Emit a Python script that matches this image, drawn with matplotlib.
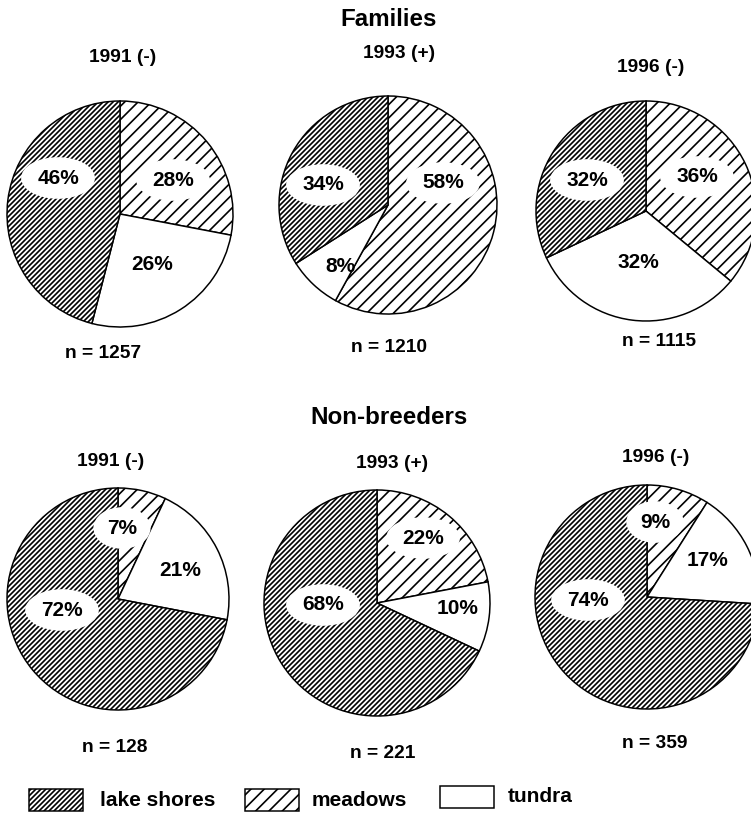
import matplotlib.pyplot as plt
from matplotlib.patches import Rectangle

plt.rcParams['font.family'] = ['Liberation Sans', 'DejaVu Sans']
plt.rcParams['hatch.linewidth'] = 1.0

# data: shares per habitat, order = meadows, tundra, lake shores
habitats = ['meadows', 'tundra', 'lake shores']
years = ['1991 (-)', '1993 (+)', '1996 (-)']
families = [[28, 26, 46], [58, 8, 34], [36, 32, 32]]
families_n = [1257, 1210, 1115]
nonbreeders = [[7, 21, 72], [22, 10, 68], [9, 17, 74]]
nonbreeders_n = [128, 221, 359]

hatches = ['///', '', '////////']

# layout in pixels (y measured from top)
W, H = 751, 813
pie_pos = [[(120, 214, 113), (388, 205, 109), (646, 211, 110)],
           [(118, 599, 111), (377, 603, 113), (647, 597, 112)]]
year_pos = [[(123, 57), (399, 53), (651, 67)],
            [(111, 462), (392, 463), (656, 458)]]
n_pos = [[(103, 353), (389, 347), (659, 342)],
         [(115, 748), (383, 753), (655, 743)]]
lab_pos = [[[(173, 180), (152, 265), (58, 178)],
            [(443, 183), (340, 267), (323, 185)],
            [(697, 177), (638, 262), (587, 180)]],
           [[(122, 528), (180, 570), (62, 610)],
            [(423, 538), (458, 608), (323, 605)],
            [(655, 522), (708, 560), (588, 600)]]]


def Y(y):
    return H - y


fig = plt.figure(figsize=(W / 120, H / 120), dpi=120)
ax = fig.add_axes([0, 0, 1, 1])

groups = [families, nonbreeders]
ns = [families_n, nonbreeders_n]
for g in range(2):
    for i in range(3):
        vals = groups[g][i]
        cx, cy, r = pie_pos[g][i]
        ax.pie(vals, colors=['white'] * 3, hatch=hatches, startangle=90,
               counterclock=False, center=(cx, Y(cy)), radius=r,
               wedgeprops=dict(edgecolor='black', linewidth=0.9), frame=True)
        for k in range(3):
            x, y = lab_pos[g][i][k]
            box = None
            if hatches[k]:
                box = dict(boxstyle='ellipse,pad=0.25', fc='white', ec='none')
            ax.text(x, Y(y), '%d%%' % vals[k], ha='center', va='center',
                    fontsize=12.5, fontweight='bold', bbox=box)
        x, y = year_pos[g][i]
        ax.text(x, Y(y), years[i], ha='center', va='center',
                fontsize=11.5, fontweight='bold')
        x, y = n_pos[g][i]
        ax.text(x, Y(y), 'n = %d' % ns[g][i], ha='center', va='center',
                fontsize=11.5, fontweight='bold')

ax.text(389, Y(20), 'Families', ha='center', va='center', fontsize=14.5,
        fontweight='bold')
ax.text(389, Y(418), 'Non-breeders', ha='center', va='center', fontsize=14.5,
        fontweight='bold')

# legend
leg_box = [(29, 789), (245, 789), (440, 786)]
leg_txt = [(100, 800), (312, 800), (508, 796)]
leg_order = [2, 0, 1]
for j, k in enumerate(leg_order):
    bx, by = leg_box[j]
    ax.add_patch(Rectangle((bx, Y(by + 22)), 54, 22, fc='white', ec='black',
                           hatch=hatches[k], lw=0.9))
    tx, ty = leg_txt[j]
    ax.text(tx, Y(ty), habitats[k], ha='left', va='center', fontsize=12.5,
            fontweight='bold')

ax.set_xlim(0, W)
ax.set_ylim(0, H)
ax.axis('off')
fig.savefig('out.png', dpi=120)
